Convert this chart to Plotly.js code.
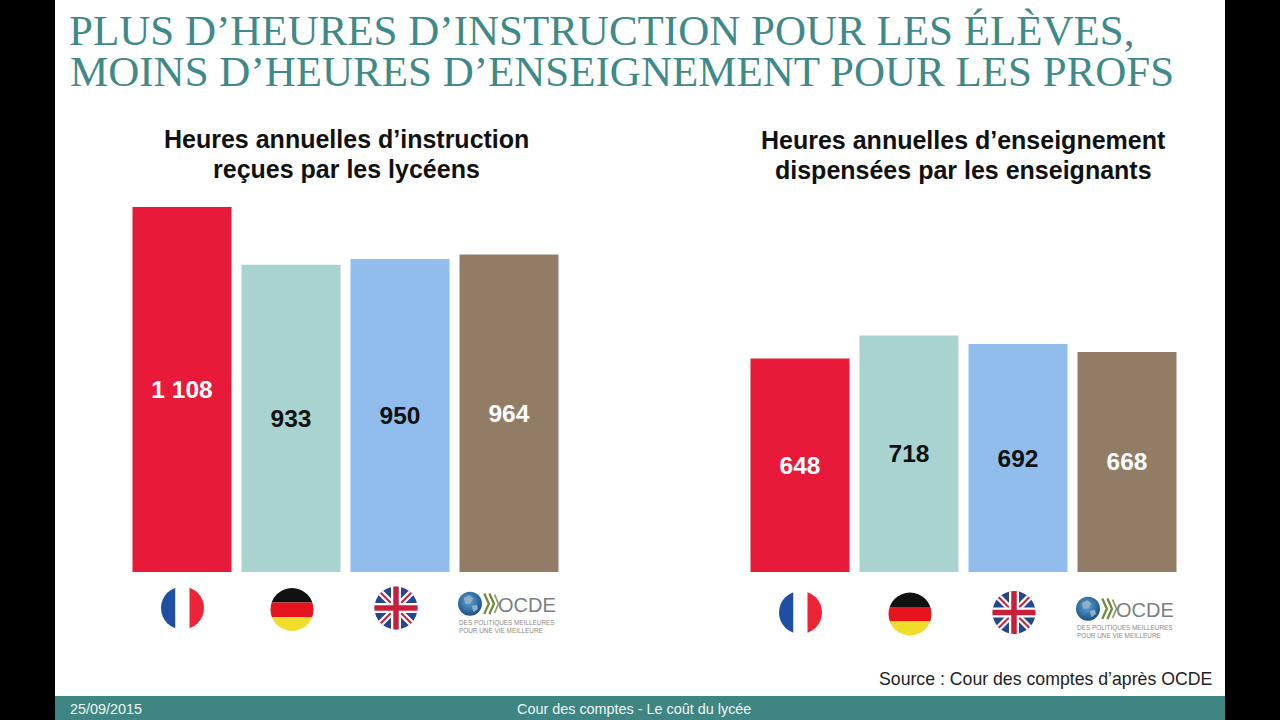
<!DOCTYPE html>
<html><head><meta charset="utf-8">
<script src="https://cdn.plot.ly/plotly-3.0.1.min.js"></script>
<style>html,body{margin:0;padding:0;background:#000;overflow:hidden}#c{width:1280px;height:720px}</style>
</head><body><div id="c"></div>
<script>
const countries = ['France','Allemagne','Royaume-Uni','OCDE'];
const instructionHours = [1108,933,950,964];
const teachingHours = [648,718,692,668];
const instructionLabels = ['1 108','933','950','964'];
const teachingLabels = ['648','718','692','668'];
const barColors = ['#E81A39','#A9D3CE','#90BDEB','#927C66'];
const labelColors = ['#ffffff','#111111','#111111','#ffffff'];
const teachingLabelColors = ['#ffffff','#111111','#111111','#ffffff'];

const W=1280,H=720;
const px=x=>x/W, py=y=>1-y/H;
const uri=s=>'data:image/svg+xml;charset=utf-8,'+encodeURIComponent(s);
const clip=(inner)=>`<svg xmlns="http://www.w3.org/2000/svg" width="88" height="88" viewBox="0 0 88 88"><defs><clipPath id="k"><circle cx="44" cy="44" r="43"/></clipPath></defs><g clip-path="url(#k)">${inner}</g></svg>`;
const fr=clip('<rect width="30" height="88" fill="#1F4FA3"/><rect x="30" width="28" height="88" fill="#fff"/><rect x="58" width="30" height="88" fill="#EC2437"/>');
const de=clip('<rect width="88" height="30" fill="#111"/><rect y="30" width="88" height="29" fill="#E5141F"/><rect y="59" width="88" height="29" fill="#F0DC2A"/>');
const uk=clip('<rect width="88" height="88" fill="#24478F"/><path d="M0 0L88 88M88 0L0 88" stroke="#fff" stroke-width="13"/><path d="M0 0L88 88M88 0L0 88" stroke="#C8203C" stroke-width="4"/><path d="M44 0V88M0 44H88" stroke="#fff" stroke-width="20"/><path d="M44 0V88M0 44H88" stroke="#C8203C" stroke-width="11"/>');
const globe=`<svg xmlns="http://www.w3.org/2000/svg" width="76" height="48" viewBox="0 0 76 48"><defs><radialGradient id="g" cx="45%" cy="40%" r="60%"><stop offset="0" stop-color="#5FA6D6"/><stop offset="1" stop-color="#1A4F86"/></radialGradient></defs><circle cx="21" cy="24" r="21" fill="url(#g)"/><path d="M10 14l10-5 7 6-5 8-9 1zM24 28l9-2 2 7-8 6z" fill="#8FB0C4"/><path d="M46 6l8 18-8 18M55 6l8 18-8 18" fill="none" stroke="#6E8C3C" stroke-width="4"/><path d="M64 8l7 16-7 16" fill="none" stroke="#8A9A6A" stroke-width="3"/></svg>`;

function img(src,x,y,w,h){return {source:uri(src),xref:'paper',yref:'paper',x:px(x),y:py(y),sizex:w/W,sizey:h/H,xanchor:'left',yanchor:'top',sizing:'stretch',layer:'above'};}
function flags(fx,fy,dx,dy,ux,uy,ox,oy){return [
  img(fr,fx-22,fy-22,44,44),img(de,dx-22,dy-22,44,44),img(uk,ux-22,uy-22,44,44),img(globe,ox,oy,43.4,27.4)];}
function note(text,x,y,size,color,anchor,extra){return {text,xref:'paper',yref:'paper',x:px(x),y:py(y),xanchor:anchor||'left',yanchor:'middle',showarrow:false,align:anchor||'left',borderpad:0,
  font:Object.assign({family:'"Liberation Sans",Arial,sans-serif',size,color},extra||{})};}
function ocde(x,y){return [
  note('OCDE',x+39,y+14,20,'#7b7f82','left'),
  note('DES POLITIQUES MEILLEURES',x,y+32,6.4,'#8a8a8a','left'),
  note('POUR UNE VIE MEILLEURE',x,y+39,6.4,'#8a8a8a','left')];}

const common={type:'bar',textposition:'inside',insidetextanchor:'middle',textangle:0,constraintext:'none',cliponaxis:false,
  marker:{color:barColors,line:{width:0}},hoverinfo:'x+y'};
const t1=Object.assign({},common,{x:countries,y:instructionHours,text:instructionLabels,xaxis:'x',yaxis:'y',
  textfont:{family:'"Liberation Sans",Arial,sans-serif',size:24.5,color:labelColors,weight:700}});
const t2=Object.assign({},common,{x:countries,y:teachingHours,text:teachingLabels,xaxis:'x2',yaxis:'y2',
  textfont:{family:'"Liberation Sans",Arial,sans-serif',size:24.5,color:teachingLabelColors,weight:700}});

const hidden={showgrid:false,zeroline:false,showline:false,showticklabels:false,ticks:'',fixedrange:true};
const serif='"Liberation Serif","Times New Roman",serif';
const layout={
  width:W,height:H,paper_bgcolor:'#000',plot_bgcolor:'rgba(0,0,0,0)',showlegend:false,
  margin:{l:0,r:0,t:0,b:0},bargap:10/109,
  title:{text:'PLUS D’HEURES D’INSTRUCTION POUR LES ÉLÈVES,',font:{family:serif,size:43,color:'#3F8A88'},x:px(69),xanchor:'left',xref:'paper',y:py(29.5),yanchor:'middle',yref:'paper'},
  xaxis:Object.assign({domain:[px(127.5),px(563.5)],anchor:'y',type:'category'},hidden),
  yaxis:Object.assign({domain:[py(572),py(200)],anchor:'x',range:[0,1129.3]},hidden),
  xaxis2:Object.assign({domain:[px(745.5),px(1181.5)],anchor:'y2',type:'category'},hidden),
  yaxis2:Object.assign({domain:[py(572),py(200)],anchor:'x2',range:[0,1129.3]},hidden),
  shapes:[
    {type:'rect',xref:'paper',yref:'paper',x0:px(55),x1:px(1225),y0:0,y1:1,fillcolor:'#fff',line:{width:0},layer:'below'},
    {type:'rect',xref:'paper',yref:'paper',x0:px(55),x1:px(1225),y0:0,y1:py(696),fillcolor:'#3E8583',line:{width:0},layer:'below'}
  ],
  images:[...flags(182.5,608,292,609.5,396,608,458,590),...flags(800.5,612.5,910,614,1014,612.5,1076,595)],
  annotations:[
    note('MOINS D’HEURES D’ENSEIGNEMENT POUR LES PROFS',69,72,43,'#3F8A88','left',{family:serif}),
    note('Heures annuelles d’instruction',346,139,25,'#111','center',{weight:700}),
    note('reçues par les lycéens',346,169,25,'#111','center',{weight:700}),
    note('Heures annuelles d’enseignement',963,140,25,'#111','center',{weight:700}),
    note('dispensées par les enseignants',963,170,25,'#111','center',{weight:700}),
    ...ocde(458,591),...ocde(1076,596),
    note('Source : Cour des comptes d’après OCDE',1213,679,17.7,'#222','right'),
    note('25/09/2015',69,709,14.4,'#eef5f4','left'),
    note('Cour des comptes - Le coût du lycée',633.5,709,14.4,'#eef5f4','center')
  ]
};
Plotly.newPlot('c',[t1,t2],layout,{displayModeBar:false,staticPlot:true});
</script></body></html>
